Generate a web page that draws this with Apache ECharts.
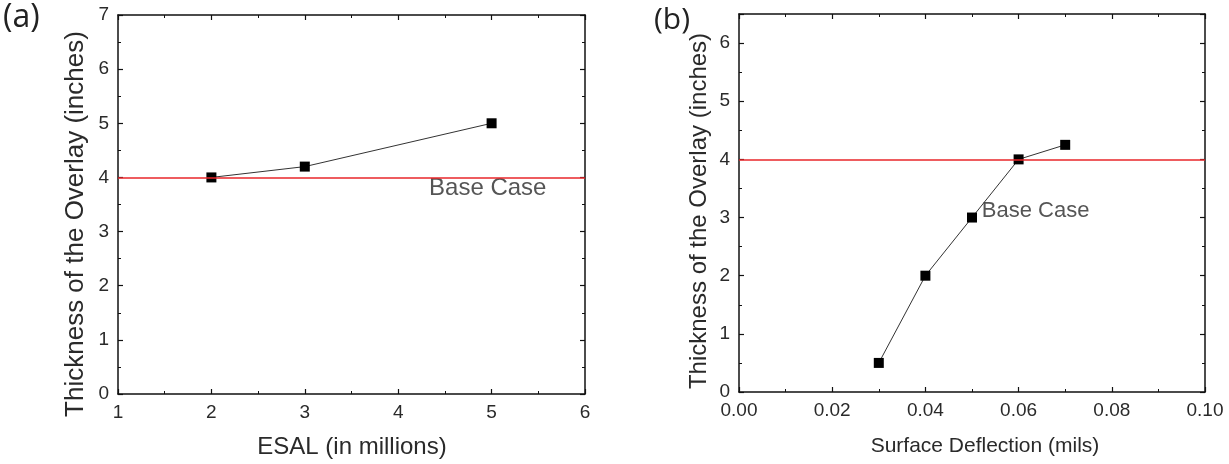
<!DOCTYPE html>
<html><head><meta charset="utf-8">
<script src="https://cdn.jsdelivr.net/npm/echarts@6/dist/echarts.min.js"></script>
<style>html,body{margin:0;padding:0;background:#fff}#c{width:1229px;height:464px}</style>
</head><body><div id="c"></div>
<script>
// Panel (a)
const esal = [2, 3, 5];
const thicknessA = [4, 4.2, 5];
const baseA = 4;
const xTicksA = [1, 2, 3, 4, 5, 6];
// Panel (b)
const deflection = [0.03, 0.04, 0.05, 0.06, 0.07];
const thicknessB = [0.5, 2, 3, 4, 4.25];
const baseB = 4;
const labelBase = 'Base Case';
const labelPosA = [4.33, 3.79];
const labelPosB = [0.0521, 3.11];
const titleXA = 'ESAL (in millions)';
const titleXB = 'Surface Deflection (mils)';
const titleY = 'Thickness of the Overlay (inches)';

const FONT = '"Liberation Sans", Arial, sans-serif';
const TXT = '#2a2a2a';
const black = '#111';
function mkAxis(o) {
  return Object.assign({
    axisLine: {show: true, onZero: false, lineStyle: {color: black, width: 1.5}},
    axisTick: {show: true, inside: true, length: 5, lineStyle: {color: black, width: 1.2}},
    minorTick: {show: true, splitNumber: 2, length: 3, lineStyle: {color: black, width: 1}},
    splitLine: {show: false},
    axisLabel: {show: false}
  }, o);
}
const tickLbl = {show: true, fontFamily: FONT, fontSize: 19, color: TXT, margin: 9};
const chart = echarts.init(document.getElementById('c'));
chart.setOption({
  animation: false,
  backgroundColor: '#fff',
  graphic: [
    {type: 'text', left: 3, top: 2, style: {text: '(a)', font: '32px "Open Sans", sans-serif', fill: '#222'}},
    {type: 'text', left: 654, top: 5, style: {text: '(b)', font: '30px "Open Sans", sans-serif', fill: '#222'}},
    {type: 'text', x: 352, y: 447, style: {text: titleXA, font: '24px ' + FONT, fill: TXT, align: 'center', verticalAlign: 'middle'}},
    {type: 'text', x: 76, y: 224, rotation: Math.PI / 2, style: {text: titleY, font: '26px ' + FONT, fill: TXT, align: 'center', verticalAlign: 'middle'}},
    {type: 'text', x: 985, y: 446, style: {text: titleXB, font: '21px ' + FONT, fill: TXT, align: 'center', verticalAlign: 'middle'}},
    {type: 'text', x: 699, y: 211, rotation: Math.PI / 2, style: {text: titleY, font: '24px ' + FONT, fill: TXT, align: 'center', verticalAlign: 'middle'}}
  ],
  grid: [
    {left: 118, top: 15, width: 467, height: 379},
    {left: 739, top: 14, width: 466, height: 378}
  ],
  xAxis: [
    mkAxis({type: 'value', gridIndex: 0, min: 1, max: 6, interval: 1,
      axisLabel: Object.assign({}, tickLbl, {formatter: v => xTicksA.includes(v) ? String(v) : ''})}),
    mkAxis({type: 'value', gridIndex: 0, position: 'top', min: 1, max: 6, interval: 1}),
    mkAxis({type: 'value', gridIndex: 1, min: 0, max: 0.1, interval: 0.02,
      axisLabel: Object.assign({}, tickLbl, {formatter: v => v.toFixed(2)})}),
    mkAxis({type: 'value', gridIndex: 1, position: 'top', min: 0, max: 0.1, interval: 0.02})
  ],
  yAxis: [
    mkAxis({type: 'value', gridIndex: 0, min: 0, max: 7, interval: 1,
      axisLabel: Object.assign({}, tickLbl)}),
    mkAxis({type: 'value', gridIndex: 0, position: 'right', min: 0, max: 7, interval: 1}),
    mkAxis({type: 'value', gridIndex: 1, min: 0, max: 6.5, interval: 1,
      axisLabel: Object.assign({}, tickLbl, {formatter: v => Number.isInteger(v) ? String(v) : ''})}),
    mkAxis({type: 'value', gridIndex: 1, position: 'right', min: 0, max: 6.5, interval: 1})
  ],
  series: [
    {type: 'line', xAxisIndex: 0, yAxisIndex: 0, data: [],
      markLine: {silent: true, symbol: 'none', label: {show: false},
        lineStyle: {color: '#e8262a', width: 1.6, type: 'solid'}, data: [{yAxis: baseA}]}},
    {type: 'line', xAxisIndex: 0, yAxisIndex: 0, data: esal.map((x, i) => [x, thicknessA[i]]),
      symbol: 'rect', symbolSize: 10, itemStyle: {color: '#000'},
      lineStyle: {color: '#333', width: 1}},
    {type: 'scatter', xAxisIndex: 0, yAxisIndex: 0, symbolSize: 0, data: [labelPosA],
      label: {show: true, position: 'right', distance: 0, formatter: labelBase,
        fontFamily: FONT, fontSize: 24, color: TXT}},
    {type: 'line', xAxisIndex: 2, yAxisIndex: 2, data: [],
      markLine: {silent: true, symbol: 'none', label: {show: false},
        lineStyle: {color: '#e8262a', width: 1.6, type: 'solid'}, data: [{yAxis: baseB}]}},
    {type: 'line', xAxisIndex: 2, yAxisIndex: 2, data: deflection.map((x, i) => [x, thicknessB[i]]),
      symbol: 'rect', symbolSize: 10, itemStyle: {color: '#000'},
      lineStyle: {color: '#333', width: 1}},
    {type: 'scatter', xAxisIndex: 2, yAxisIndex: 2, symbolSize: 0, data: [labelPosB],
      label: {show: true, position: 'right', distance: 0, formatter: labelBase,
        fontFamily: FONT, fontSize: 22, color: TXT}}
  ]
});
</script></body></html>
